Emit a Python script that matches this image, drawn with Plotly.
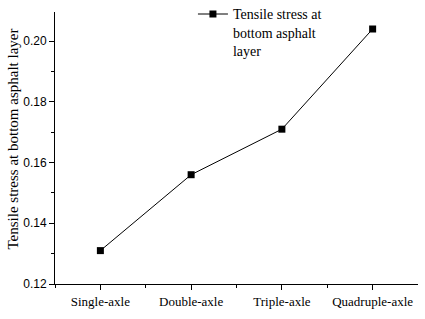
import plotly.graph_objects as go

categories = ["Single-axle", "Double-axle", "Triple-axle", "Quadruple-axle"]
stress = [0.131, 0.156, 0.171, 0.204]
series_name = "Tensile stress at<br>bottom asphalt<br>layer"
y_title = "Tensile stress at bottom asphalt layer"
y_ticks = [0.12, 0.14, 0.16, 0.18, 0.20]

xpos = list(range(len(categories)))

W, H = 425, 319
L, R, T, B = 55, 7, 12, 35
plot_w = W - L - R
plot_h = H - T - B

fig = go.Figure()
fig.add_trace(go.Scatter(
    x=xpos, y=stress, mode="lines+markers", name=series_name,
    line=dict(color="black", width=1),
    marker=dict(symbol="square", size=7, color="black"),
    showlegend=True,
))

fig.add_annotation(
    text=y_title, textangle=-90, showarrow=False,
    xref="paper", yref="paper",
    x=(12 - L) / plot_w, y=(H - B - 139.5) / plot_h,
    xanchor="center", yanchor="middle",
    font=dict(family="Liberation Serif", size=15, color="black"),
)

fig.update_layout(
    width=W, height=H,
    margin=dict(l=L, r=R, t=T, b=B, autoexpand=False),
    paper_bgcolor="white", plot_bgcolor="white",
    showlegend=True,
    legend=dict(x=0.38, y=1.05, xanchor="left", yanchor="top",
                bgcolor="rgba(0,0,0,0)",
                font=dict(family="Liberation Serif", size=14, color="black"),
                itemwidth=30, valign="top", tracegroupgap=0),
    xaxis=dict(range=[-0.5, 3.5], tickmode="array", tickvals=xpos, ticktext=categories,
               automargin=False,
               showgrid=False, zeroline=False, showline=True, linecolor="black", linewidth=1,
               ticks="outside", ticklen=5, tickcolor="black",
               tickfont=dict(family="Liberation Serif", size=13, color="black"),
               minor=dict(tickvals=[-0.5, 0.5, 1.5, 2.5], ticks="outside", ticklen=3, tickcolor="black", showgrid=False)),
    yaxis=dict(range=[0.12, 0.2096], tickmode="array", tickvals=y_ticks,
               ticktext=[f"{v:.2f}" for v in y_ticks],
               automargin=False,
               showgrid=False, zeroline=False, showline=True, linecolor="black", linewidth=1,
               ticks="outside", ticklen=5, tickcolor="black",
               tickfont=dict(family="Liberation Sans", size=12, color="black"),
               minor=dict(dtick=0.01, tick0=0.12, ticks="outside", ticklen=3, tickcolor="black", showgrid=False)),
)

fig.write_html("out.html", config={"displayModeBar": False},
               post_script="document.body.style.margin='0px';")
